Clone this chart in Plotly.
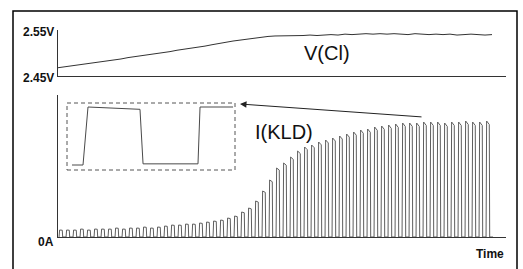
import plotly.graph_objects as go

W, H = 523, 269

# ---------------- data ----------------
# V(Cl) sampled once per pulse period (time in pulse periods)
v_time = list(range(63))
v_cl = [2.468, 2.470, 2.472, 2.474, 2.476, 2.479, 2.481, 2.482, 2.485, 2.487,
        2.490, 2.492, 2.494, 2.496, 2.498, 2.501, 2.503, 2.506, 2.508, 2.510,
        2.513, 2.515, 2.518, 2.521, 2.523, 2.526, 2.528, 2.530, 2.532, 2.535,
        2.536, 2.537, 2.537, 2.538, 2.537, 2.538, 2.539, 2.538, 2.539, 2.540,
        2.539, 2.541, 2.540, 2.541, 2.542, 2.541, 2.542, 2.541, 2.542, 2.541,
        2.540, 2.542, 2.541, 2.540, 2.541, 2.540, 2.541, 2.539, 2.540, 2.541,
        2.540, 2.539, 2.540]

# I(KLD) peak of each pulse (arbitrary current units)
pulse_peaks = [7, 7, 7, 8, 7, 8, 8, 8, 9, 8,
               9, 9, 10, 9, 10, 11, 12, 12, 13, 13,
               14, 15, 16, 17, 19, 21, 25, 29, 36, 46,
               57, 69, 74, 80, 86, 90, 92, 95, 97, 99,
               101, 103, 105, 107, 108, 110, 111, 112, 113, 114,
               114, 114, 115, 115, 115, 114, 115, 115, 116, 115, 115, 116]

# zoomed single pulse (inset), time in periods, current normalised
inset_time = [0.044, 0.141, 0.185, 0.643, 0.670, 1.154, 1.172, 1.463]
inset_current = [0.0, 0.0, 1.0, 0.96, 0.02, 0.02, 1.0, 1.0]

v_ticks = [2.45, 2.55]
v_ticktext = ["2.45V", "2.55V"]
i_ticks = [0]
i_ticktext = ["0A"]

# ------------- helpers -------------
def px_x(p):
    return p / W

def px_y(p):
    return (H - p) / H

# build the pulse train from the peak list
wave_t, wave_i = [], []
for k, p in enumerate(pulse_peaks):
    t0 = k + 0.15
    wave_t += [t0, t0 + 0.08, t0 + 0.46, t0 + 0.52]
    wave_i += [0, p, p * 0.97, 0]
wave_t.append(len(pulse_peaks) + 0.15)
wave_i.append(0)

trace_col = "#4a4a4a"
axis_col = "#333333"

fig = go.Figure()
fig.add_trace(go.Scatter(x=v_time, y=v_cl, mode="lines", xaxis="x", yaxis="y",
                         line=dict(color="#333333", width=1)))
fig.add_trace(go.Scatter(x=wave_t, y=wave_i, mode="lines", xaxis="x2", yaxis="y2",
                         line=dict(color="#5e5e5e", width=1)))
fig.add_trace(go.Scatter(x=inset_time, y=inset_current, mode="lines", xaxis="x3", yaxis="y3",
                         line=dict(color=trace_col, width=1)))

xdom = [px_x(58), px_x(506)]
common_x = dict(domain=xdom, range=[0, 64], showgrid=False, zeroline=False,
                showticklabels=False, ticks="", showline=True, linecolor=axis_col, linewidth=1)
common_y = dict(showgrid=False, zeroline=False, showticklabels=False, ticks="",
                showline=True, linecolor=axis_col, linewidth=1)

fig.update_layout(
    width=W, height=H,
    margin=dict(l=0, r=0, t=0, b=0),
    paper_bgcolor="white", plot_bgcolor="white",
    showlegend=False,
    xaxis=dict(**common_x, anchor="y"),
    yaxis=dict(**common_y, domain=[px_y(76), px_y(30)], range=[2.45, 2.55], anchor="x"),
    xaxis2=dict(**common_x, anchor="y2"),
    yaxis2=dict(**common_y, domain=[px_y(237), px_y(95)], range=[0, 142], anchor="x2"),
    xaxis3=dict(domain=[px_x(67), px_x(235)], range=[0, 1.48], visible=False, anchor="y3"),
    yaxis3=dict(domain=[px_y(170), px_y(103)], range=[-0.086, 1.069], visible=False, anchor="x3"),
)

# frame
fig.add_shape(type="rect", xref="paper", yref="paper",
              x0=px_x(13), x1=px_x(517), y0=-0.05, y1=px_y(11),
              line=dict(color="black", width=1.5), fillcolor="rgba(0,0,0,0)")
# inset dashed box
fig.add_shape(type="rect", xref="x3 domain", yref="y3 domain",
              x0=0, x1=1, y0=0, y1=1,
              line=dict(color="#555555", width=1, dash="4px,3px"))

lab_font = dict(family="Liberation Sans, Arial", size=12, color="#111111")
anns = []
for v, t in zip(v_ticks, v_ticktext):
    anns.append(dict(x=px_x(56), xref="paper", y=v, yref="y", text="<b>%s</b>" % t,
                     showarrow=False, xanchor="right", yanchor="middle", yshift=-2, font=lab_font))
for v, t in zip(i_ticks, i_ticktext):
    anns.append(dict(x=px_x(56), xref="paper", y=v, yref="y2", text="<b>%s</b>" % t,
                     showarrow=False, xanchor="right", yanchor="middle", yshift=-5, font=lab_font))
anns.append(dict(x=px_x(490), xref="paper", y=px_y(254), yref="paper", text="<b>Time</b>",
                 showarrow=False, xanchor="center", yanchor="middle", font=lab_font))
big_font = dict(family="Liberation Sans, Arial", size=20, color="#111111")
anns.append(dict(x=px_x(327), xref="paper", y=px_y(53), yref="paper", text="V(Cl)",
                 showarrow=False, xanchor="center", yanchor="middle", font=big_font))
anns.append(dict(x=px_x(284), xref="paper", y=px_y(132), yref="paper", text="I(KLD)",
                 showarrow=False, xanchor="center", yanchor="middle", font=big_font))
anns.append(dict(x=px_x(240), xref="paper", y=px_y(104), yref="paper", text="",
                 showarrow=True, arrowhead=2, arrowsize=1.3, arrowwidth=1,
                 arrowcolor="#222222", ax=183, ay=13))
fig.update_layout(annotations=anns)

fig.write_html("out.html", config={"displayModeBar": False},
               post_script="document.body.style.margin='0px';")
